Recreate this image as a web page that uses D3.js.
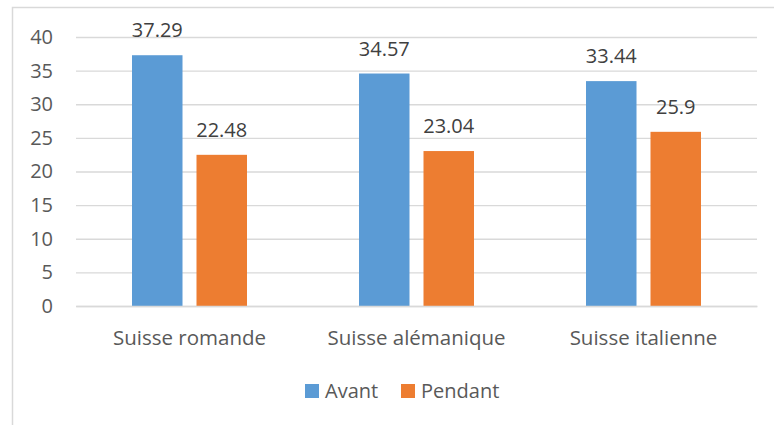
<!DOCTYPE html>
<html>
<head>
<meta charset="utf-8">
<script src="https://cdn.jsdelivr.net/npm/d3@7"></script>
<style>
  body { margin: 0; background: #fff; }
  svg text { font-family: "Open Sans", sans-serif; }
</style>
</head>
<body>
<div id="chart"></div>
<script>
var categories = ['Suisse romande', 'Suisse alémanique', 'Suisse italienne'];
var seriesNames = ['Avant', 'Pendant'];
var avant = [37.29, 34.57, 33.44];
var pendant = [22.48, 23.04, 25.9];
var yTicks = [0, 5, 10, 15, 20, 25, 30, 35, 40];

var colors = { 'Avant': '#5B9BD5', 'Pendant': '#ED7D31' };

var width = 774,
    height = 425,
    plotLeft = 76,
    plotRight = 757,
    plotTop = 37,
    plotBottom = 306;

var rows = categories.map(function (c, i) {
    return { cat: c, values: [
        { key: 'Avant', value: avant[i] },
        { key: 'Pendant', value: pendant[i] }
    ] };
});

var svg = d3.select('#chart')
    .append('svg')
    .attr('width', width)
    .attr('height', height);

// chart frame (cropped on right / bottom)
svg.append('path')
    .attr('d', 'M12.5,' + height + 'V7.5H' + width)
    .attr('fill', 'none')
    .attr('stroke', '#d9d9d9')
    .attr('stroke-width', 1.5);

var x = d3.scaleBand()
    .domain(categories)
    .range([plotLeft, plotRight]);

var groupW = 115;
var xs = d3.scaleBand()
    .domain(seriesNames)
    .range([0, groupW])
    .paddingInner(0.217);

var y = d3.scaleLinear()
    .domain([0, 40])
    .range([plotBottom, plotTop]);

// gridlines + tick labels
var yAxis = d3.axisLeft(y)
    .tickValues(yTicks)
    .tickSize(-(plotRight - plotLeft))
    .tickPadding(23);

var gy = svg.append('g')
    .attr('transform', 'translate(' + plotLeft + ',0)')
    .call(yAxis);
gy.select('.domain').remove();
gy.selectAll('.tick line')
    .attr('stroke', '#d9d9d9')
    .attr('stroke-width', 1.3);
gy.selectAll('.tick text')
    .attr('fill', '#595959')
    .style('font-size', '20px');

// bars
var groups = svg.append('g')
    .selectAll('g')
    .data(rows)
    .join('g')
    .attr('transform', function (d) {
        return 'translate(' + (x(d.cat) + (x.bandwidth() - groupW) / 2) + ',0)';
    });

groups.selectAll('rect')
    .data(function (d) { return d.values; })
    .join('rect')
    .attr('x', function (d) { return xs(d.key); })
    .attr('y', function (d) { return y(d.value); })
    .attr('width', xs.bandwidth())
    .attr('height', function (d) { return y(0) - y(d.value); })
    .attr('fill', function (d) { return colors[d.key]; });

groups.selectAll('text')
    .data(function (d) { return d.values; })
    .join('text')
    .attr('x', function (d) { return xs(d.key) + xs.bandwidth() / 2; })
    .attr('y', function (d) { return y(d.value) - 18; })
    .attr('text-anchor', 'middle')
    .attr('fill', '#404040')
    .style('font-size', '20px')
    .text(function (d) { return d.value; });

// x axis
var gx = svg.append('g')
    .attr('transform', 'translate(0,' + plotBottom + ')')
    .call(d3.axisBottom(x).tickSize(0).tickPadding(24));
gx.select('.domain')
    .attr('stroke', '#d9d9d9')
    .attr('stroke-width', 1.3);
gx.selectAll('.tick text')
    .attr('fill', '#595959')
    .style('font-size', '20.5px');

// legend
var legend = svg.append('g')
    .selectAll('g')
    .data(seriesNames)
    .join('g')
    .attr('transform', function (d, i) { return 'translate(' + (305 + i * 96) + ',384)'; });

legend.append('rect')
    .attr('width', 14)
    .attr('height', 14)
    .attr('fill', function (d) { return colors[d]; });

legend.append('text')
    .attr('x', 20)
    .attr('y', 14)
    .attr('fill', '#595959')
    .style('font-size', '20px')
    .text(function (d) { return d; });
</script>
</body>
</html>
